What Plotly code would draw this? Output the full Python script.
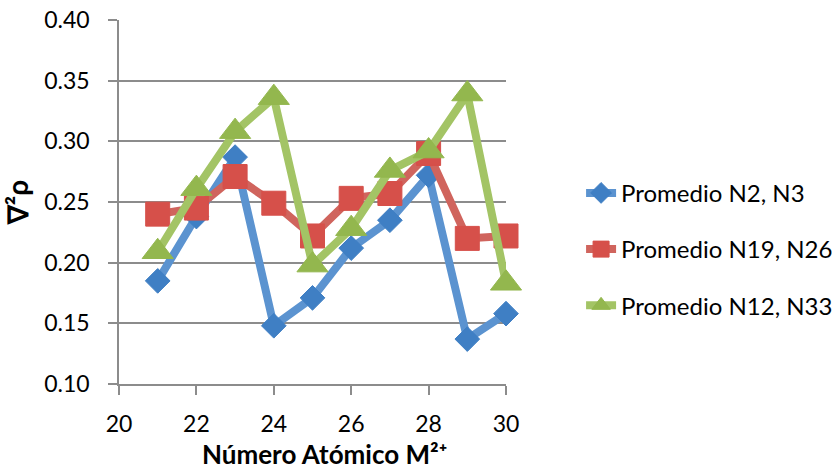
import plotly.graph_objects as go

# Atomic number of the M2+ cation
numero_atomico = [21, 22, 23, 24, 25, 26, 27, 28, 29, 30]

# Laplacian of the electron density, averaged over nitrogen pairs
prom_n2_n3 = [0.185, 0.238, 0.287, 0.148, 0.171, 0.212, 0.235, 0.272, 0.137, 0.158]
prom_n19_n26 = [0.240, 0.245, 0.271, 0.249, 0.222, 0.253, 0.257, 0.290, 0.220, 0.222]
prom_n12_n33 = [0.209, 0.261, 0.308, 0.336, 0.198, 0.228, 0.276, 0.292, 0.339, 0.183]

x_ticks = [20, 22, 24, 26, 28, 30]
y_ticks = [0.10, 0.15, 0.20, 0.25, 0.30, 0.35, 0.40]

FONT = "Lato"

series = [
    ("Promedio N2, N3", prom_n2_n3, "#5B93D0", "#3F7FC4", "diamond", 19),
    ("Promedio N19, N26", prom_n19_n26, "#D0645D", "#D6504A", "square", 24),
    ("Promedio N12, N33", prom_n12_n33, "#A3C465", "#93B74E", "triangle-up", 27),
]

fig = go.Figure()
for i, (name, vals, line_col, mk_col, sym, size) in enumerate(series):
    fig.add_trace(go.Scatter(
        x=numero_atomico, y=vals, name=name, mode="lines+markers",
        legendgroup=f"g{i}", cliponaxis=False,
        line=dict(color=line_col, width=8),
        marker=dict(symbol=sym, size=size, color=mk_col,
                    line=dict(color=mk_col, width=1)),
    ))

axis_gray = "#8C8C8C"
fig.update_layout(
    width=838, height=471,
    margin=dict(l=119, r=332, t=20, b=87, autoexpand=False),
    paper_bgcolor="white", plot_bgcolor="white",
    font=dict(family=FONT, size=23, color="black"),
    showlegend=True,
    legend=dict(x=1.194, xanchor="left", y=0.37, yanchor="middle",
                xref="paper", yref="paper",
                font=dict(family=FONT, size=24),
                tracegroupgap=22, itemsizing="trace",
                bgcolor="rgba(0,0,0,0)", borderwidth=0),
    xaxis=dict(
        range=[20, 30], tickvals=x_ticks, ticktext=[str(v) for v in x_ticks],
        showgrid=False, zeroline=False, automargin=False,
        showline=True, linecolor=axis_gray, linewidth=1.5,
        ticks="outside", ticklen=9, tickcolor=axis_gray, tickwidth=1.5,
        ticklabelstandoff=10,
        tickfont=dict(family=FONT, size=23),
    ),
    yaxis=dict(
        range=[0.10, 0.40], tickvals=y_ticks,
        ticktext=[f"{v:.2f}" for v in y_ticks],
        showgrid=True, gridcolor=axis_gray, gridwidth=1.5,
        zeroline=False, automargin=False,
        showline=True, linecolor=axis_gray, linewidth=1.5,
        ticks="outside", ticklen=9, tickcolor=axis_gray, tickwidth=1.5,
        ticklabelstandoff=14,
        tickfont=dict(family=FONT, size=23),
        title=dict(text="<b>∇²ρ</b>", font=dict(family=FONT, size=28),
                   standoff=8),
    ),
    annotations=[dict(
        text="<b>Número Atómico M²⁺</b>",
        xref="paper", yref="paper", x=0.53, y=-0.192, xanchor="center",
        yanchor="middle", showarrow=False, borderpad=0,
        font=dict(family=FONT, size=26, color="black"),
    )],
)

fig.write_html("out.html")
